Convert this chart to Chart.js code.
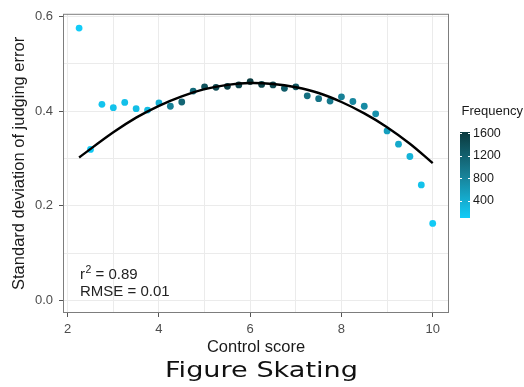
<!DOCTYPE html>
<html><head><meta charset="utf-8">
<script src="https://cdn.jsdelivr.net/npm/chart.js@4/dist/chart.umd.min.js"></script>
<style>html,body{margin:0;padding:0;background:#fff}canvas{display:block}</style>
</head><body>
<canvas id="c" width="524" height="387"></canvas>
<script>
// ---- data ----
const controlScore = [2.25,2.5,2.75,3.0,3.25,3.5,3.75,4.0,4.25,4.5,4.75,5.0,5.25,5.5,5.75,6.0,6.25,6.5,6.75,7.0,7.25,7.5,7.75,8.0,8.25,8.5,8.75,9.0,9.25,9.5,9.75,10.0];
const sdError = [0.575,0.319,0.414,0.407,0.418,0.405,0.402,0.417,0.410,0.419,0.442,0.451,0.450,0.452,0.455,0.462,0.456,0.455,0.448,0.451,0.432,0.426,0.421,0.430,0.420,0.410,0.394,0.358,0.330,0.304,0.244,0.163];
const frequency = [100,130,180,200,220,240,270,380,850,1150,1100,1350,1450,1550,1500,1600,1500,1450,1250,1300,1050,1000,950,850,800,750,700,550,450,350,200,120];
const fitX = [2.25,3.0,3.5,4.0,4.5,5.0,5.5,6.0,6.5,7.0,7.5,8.0,8.5,9.0,9.5,10.0];
const fitY = [0.302,0.355,0.386,0.411,0.431,0.446,0.455,0.459,0.457,0.450,0.438,0.419,0.395,0.366,0.331,0.290];
const xTickValues = [2,3,4,5,6,7,8,9,10];
const xTickLabels = [2,4,6,8,10];
const yTickValues = [0,0.1,0.2,0.3,0.4,0.5,0.6];
const yTickLabels = [0,0.2,0.4,0.6];
const legendTicks = [400,800,1200,1600];
const freqRange = [100,1620];
const r2Value = "0.89";
const rmseValue = "0.01";
const xTitle = "Control score";
const yTitle = "Standard deviation of judging error";
const legendTitle = "Frequency";
const figureTitle = "Figure Skating";

// ---- styles ----
const FONT = "'Liberation Sans', Arial, Helvetica, sans-serif";
const LOW=[18,204,248], MID=[24,128,150], HIGH=[11,58,62];
function mix(a,b,u){return a.map((v,i)=>Math.round(v+(b[i]-v)*u));}
function freqColor(f){
  let t=(f-freqRange[0])/(freqRange[1]-freqRange[0]); t=Math.max(0,Math.min(1,t));
  const c = t<0.5 ? mix(LOW,MID,t/0.5) : mix(MID,HIGH,(t-0.5)/0.5);
  return 'rgb('+c.join(',')+')';
}
const isIn=(arr,v)=>arr.some(a=>Math.abs(a-v)<1e-9);

const overlay = {
  id:'overlay',
  beforeDatasetsDraw(chart){
    const {ctx, chartArea:a} = chart;
    ctx.save();
    ctx.strokeStyle='#7d7d7d'; ctx.lineWidth=1;
    ctx.strokeRect(a.left+0.5, a.top+0.5, a.right-a.left-1, a.bottom-a.top-1);
    ctx.restore();
  },
  afterDraw(chart){
    const ctx = chart.ctx;
    ctx.save();
    // stats text
    ctx.fillStyle='#222'; ctx.textAlign='left'; ctx.textBaseline='alphabetic';
    ctx.font='15px '+FONT;
    let x=80, y=279;
    ctx.fillText('r', x, y); x += ctx.measureText('r').width + 0.5;
    ctx.font='10.5px '+FONT; ctx.fillText('2', x, y-6.5); x += ctx.measureText('2').width;
    ctx.font='15px '+FONT; ctx.fillText(' = '+r2Value, x, y);
    ctx.fillText('RMSE = '+rmseValue, 80, 296);
    // legend
    const bx=460, bw=10, top=132, bot=218;
    ctx.font='13px '+FONT; ctx.fillStyle='#1a1a1a'; ctx.textBaseline='middle';
    ctx.fillText(legendTitle, 461.5, 111);
    const g = ctx.createLinearGradient(0,bot,0,top);
    g.addColorStop(0,'rgb('+LOW.join(',')+')');
    g.addColorStop(0.5,'rgb('+MID.join(',')+')');
    g.addColorStop(1,'rgb('+HIGH.join(',')+')');
    ctx.fillStyle=g; ctx.fillRect(bx, top, bw, bot-top);
    const yOf = v => bot - (v-freqRange[0])/(freqRange[1]-freqRange[0])*(bot-top);
    ctx.strokeStyle='#ffffff'; ctx.lineWidth=1;
    ctx.fillStyle='#1a1a1a'; ctx.font='12.5px '+FONT;
    legendTicks.forEach(v=>{
      const yy=Math.round(yOf(v))+0.5;
      ctx.beginPath(); ctx.moveTo(bx,yy); ctx.lineTo(bx+2,yy); ctx.moveTo(bx+bw-2,yy); ctx.lineTo(bx+bw,yy); ctx.stroke();
      ctx.fillText(String(v), 473, yOf(v));
    });
    // figure title (stretched horizontally as in the reference)
    ctx.font="20.5px 'DejaVu Sans', Verdana, sans-serif";
    ctx.fillStyle='#111'; ctx.textAlign='center'; ctx.textBaseline='alphabetic';
    const w = ctx.measureText(figureTitle).width;
    const sx = 193 / w;
    ctx.translate(261.5, 377); ctx.scale(sx,1);
    ctx.fillText(figureTitle, 0, 0);
    ctx.restore();
  }
};

new Chart(document.getElementById('c'), {
  type:'scatter',
  data:{
    datasets:[
      { type:'line', label:'fit', data: fitX.map((x,i)=>({x, y:fitY[i]})),
        borderColor:'#000', borderWidth:2.4, pointRadius:0, fill:false,
        tension:0.4, borderCapStyle:'butt', order:0 },
      { label:'points', data: controlScore.map((x,i)=>({x, y:sdError[i]})),
        backgroundColor: frequency.map(freqColor), borderWidth:0,
        pointRadius:3.4, pointHoverRadius:3.4, order:1 }
    ]
  },
  options:{
    responsive:false, animation:false,
    layout:{padding:{top:12.7, right:75, bottom:24, left:0}},
    plugins:{legend:{display:false}, tooltip:{enabled:false}},
    scales:{
      x:{ type:'linear', min:1.897, max:10.357,
        afterBuildTicks:s=>{ s.ticks = xTickValues.map(v=>({value:v})); },
        afterFit:s=>{ s.height=50; },
        ticks:{ autoSkip:false, maxRotation:0, padding:4.5, color:'#4d4d4d', font:{family:FONT,size:13},
          callback:v=> isIn(xTickLabels,v) ? String(v) : '' },
        grid:{ color:'#ebebeb', lineWidth:1, tickLength:4,
          tickColor:c=> (c.tick && isIn(xTickLabels,c.tick.value)) ? '#555' : 'rgba(0,0,0,0)' },
        border:{display:false},
        title:{ display:true, text:xTitle, color:'#1a1a1a', font:{family:FONT,size:16.5}, padding:{top:0,bottom:6} }
      },
      y:{ type:'linear', min:-0.026, max:0.605,
        afterBuildTicks:s=>{ s.ticks = yTickValues.map(v=>({value:v})); },
        afterFit:s=>{ s.width=63; },
        ticks:{ autoSkip:false, padding:6, color:'#4d4d4d', font:{family:FONT,size:13},
          callback:v=> isIn(yTickLabels,v) ? v.toFixed(1) : '' },
        grid:{ color:'#ebebeb', lineWidth:1, tickLength:4,
          tickColor:c=> (c.tick && isIn(yTickLabels,c.tick.value)) ? '#555' : 'rgba(0,0,0,0)' },
        border:{display:false},
        title:{ display:true, text:yTitle, color:'#1a1a1a', font:{family:FONT,size:16.5}, padding:{top:10,bottom:0} }
      }
    }
  },
  plugins:[overlay]
});
</script>
</body></html>
